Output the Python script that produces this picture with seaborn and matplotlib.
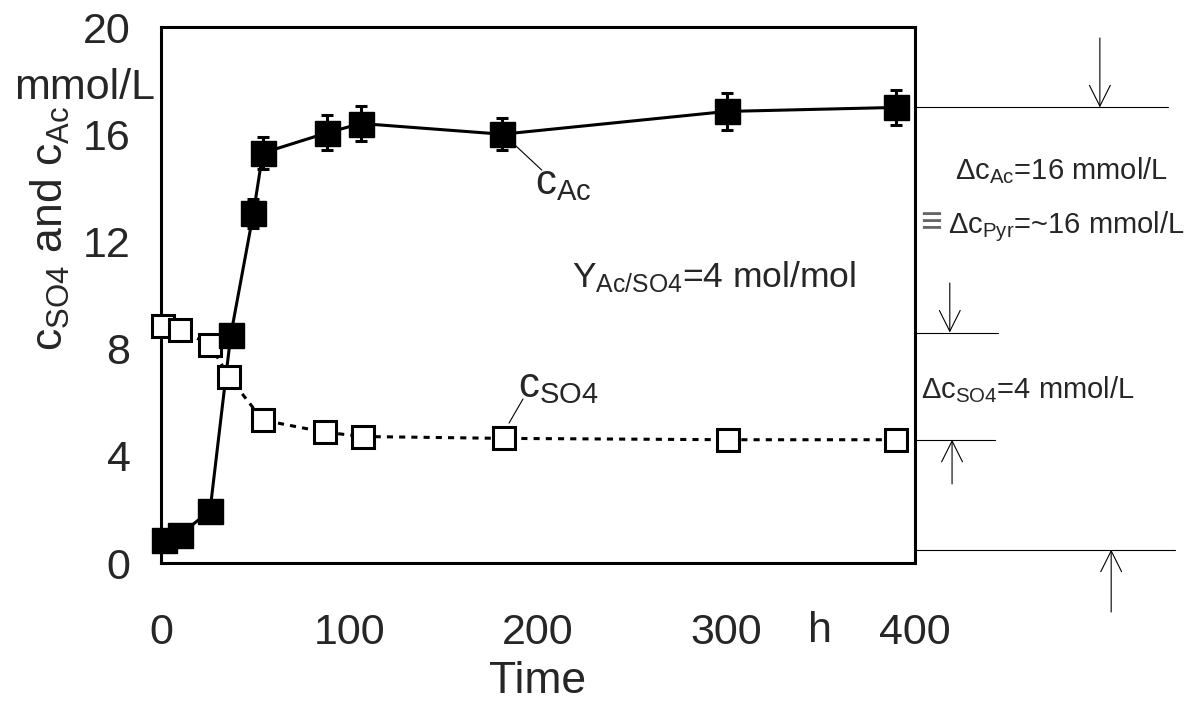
import matplotlib
matplotlib.use("Agg")
import matplotlib.pyplot as plt
import matplotlib.transforms as mtransforms
import seaborn as sns
import pandas as pd

# Acetate concentration (filled squares) with error bars
t_ac = [1.5, 10, 26, 37, 49, 54, 88, 106, 181, 300, 390]
c_ac = [0.85, 1.05, 1.95, 8.5, 13.05, 15.3, 16.05, 16.4, 16.0, 16.85, 17.0]
err_ac = [0.2, 0.2, 0.2, 0.3, 0.55, 0.6, 0.65, 0.65, 0.6, 0.7, 0.65]

# Sulfate concentration (open squares)
t_so4 = [1, 10, 26, 36, 54, 87, 107, 182, 301, 390]
c_so4 = [8.85, 8.7, 8.15, 6.95, 5.33, 4.88, 4.72, 4.65, 4.6, 4.6]

# Levels marked on the right-hand side (start/end values)
ac_end, so4_start, so4_end, ac_start = 17.0, 8.6, 4.6, 0.5

x_ticks = [0, 100, 200, 300, 400]
y_ticks = [0, 4, 8, 12, 16, 20]

sns.set_style("white")
plt.rcParams["font.family"] = ["Liberation Sans", "DejaVu Sans"]
plt.rcParams["mathtext.default"] = "regular"

df_ac = pd.DataFrame({"t": t_ac, "c": c_ac})
df_so4 = pd.DataFrame({"t": t_so4, "c": c_so4})

fig = plt.figure(figsize=(11.97, 7.02), dpi=100)
ax = fig.add_axes([0.1345, 0.198, 0.630, 0.7635])

# Acetate connecting line
sns.lineplot(data=df_ac, x="t", y="c", ax=ax, color="black", lw=2.2,
             sort=False, zorder=2)
# Sulfate dotted line with open squares
sns.lineplot(data=df_so4, x="t", y="c", ax=ax, color="black", lw=2.2,
             linestyle=(0, (2, 2)), marker="s", markersize=16,
             markerfacecolor="white", markeredgecolor="black",
             markeredgewidth=2.2, sort=False, zorder=3)
# Acetate markers with error bars on top
eb = ax.errorbar(t_ac, c_ac, yerr=err_ac, fmt="s", color="black", ms=18,
                 elinewidth=2.2, capsize=4, capthick=2.2, zorder=4)
for ln in ax.lines:
    ln.set_clip_on(False)
for coll in ax.collections:
    coll.set_clip_on(False)

ax.set_xlim(0, 400)
ax.set_ylim(0, 20)
ax.set_xticks(x_ticks)
ax.set_yticks(y_ticks)
ax.set_xticklabels([str(v) for v in x_ticks])
ax.set_yticklabels([str(v) for v in y_ticks])
ax.tick_params(axis="both", direction="out", length=10, width=1,
               color="#808080", labelsize=31)
ax.tick_params(axis="x", pad=26)
ax.tick_params(axis="y", pad=12)
for sp in ax.spines.values():
    sp.set_linewidth(2.2)
    sp.set_color("black")
    sp.set_zorder(1)

ax.set_xlabel("Time", fontsize=32, labelpad=6)
ax.set_ylabel("$c_{SO4}$ and $c_{Ac}$", fontsize=32)
ax.yaxis.set_label_coords(-0.118, 0.625)

# Unit labels
ax.text(-0.008, 17.72, "mmol/L", transform=mtransforms.blended_transform_factory(
    ax.transAxes, ax.transData), ha="right", va="center", fontsize=31,
    clip_on=False)
ax.text(349.6, -0.127, "h", transform=mtransforms.blended_transform_factory(
    ax.transData, ax.transAxes), ha="center", va="center", fontsize=31,
    clip_on=False)

# Series labels with leader lines
ax.plot([188.3, 202], [15.56, 14.66], color="black", lw=0.8, zorder=5)
ax.text(198.4, 13.77, "$c_{Ac}$", fontsize=30, ha="left", va="baseline")
ax.plot([184.6, 192], [5.22, 6.12], color="black", lw=0.8, zorder=5)
ax.text(189.4, 6.2, "$c_{SO4}$", fontsize=30, ha="left", va="baseline")

ax.text(218, 10.3, "$Y_{Ac/SO4}$=4 mol/mol", fontsize=25.5, ha="left",
        va="baseline")

# Right-hand difference markers
bt = mtransforms.blended_transform_factory(ax.transAxes, ax.transData)
line_kw = dict(color="black", lw=0.8, transform=bt, clip_on=False)
ax.plot([1.0, 1.3355], [ac_end, ac_end], **line_kw)
ax.plot([1.0, 1.110], [so4_start, so4_start], **line_kw)
ax.plot([1.0, 1.106], [so4_end, so4_end], **line_kw)
ax.plot([1.0, 1.345], [ac_start, ac_start], **line_kw)

arrow_kw = dict(arrowstyle="->,head_length=1.5,head_width=0.75",
                color="black", lw=0.8, shrinkA=0, shrinkB=0,
                mutation_scale=10)
for xa, y0, y1 in [(1.245, 19.59, ac_end), (1.046, 10.45, so4_start),
                   (1.049, 2.95, so4_end), (1.26, -1.83, ac_start)]:
    ax.annotate("", xy=(xa, y1), xytext=(xa, y0), xycoords=bt,
                textcoords=bt, arrowprops=arrow_kw, annotation_clip=False)

fig.text(955 / 1197, 1 - 179 / 702, "Δ$c_{Ac}$=16 mmol/L", fontsize=21,
         ha="left", va="baseline")
fig.text(920 / 1197, 1 - 233 / 702, "≡", fontsize=27, color="#666666",
         ha="left", va="baseline")
fig.text(948 / 1197, 1 - 233 / 702, "Δ$c_{Pyr}$=~16 mmol/L", fontsize=21,
         ha="left", va="baseline")
fig.text(921 / 1197, 1 - 398 / 702, "Δ$c_{SO4}$=4 mmol/L", fontsize=21,
         ha="left", va="baseline")

fig.savefig("out.png", dpi=100)
